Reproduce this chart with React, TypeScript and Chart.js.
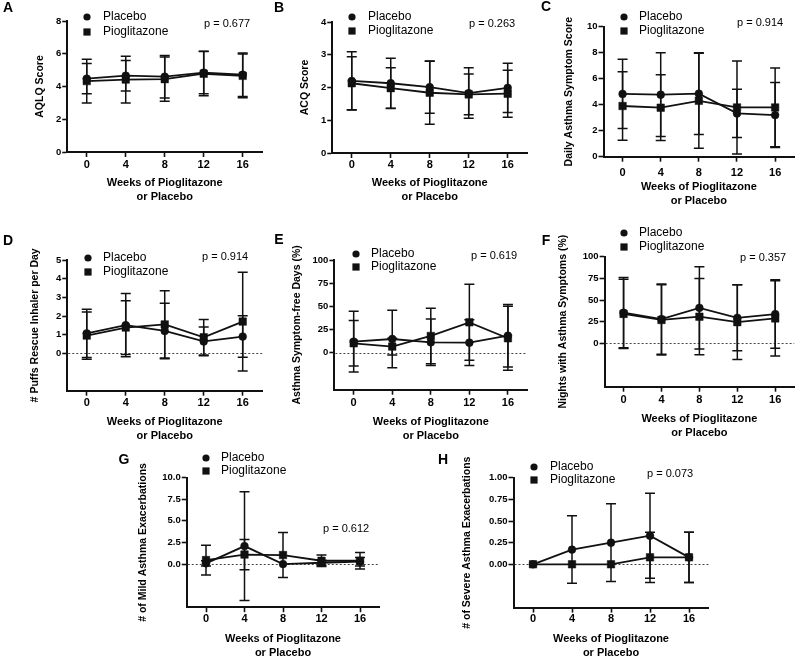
import React, { useEffect, useRef } from 'react';
import { Chart, registerables } from 'chart.js';

Chart.register(...registerables);

const FONT = '"Liberation Sans", Arial, Helvetica, sans-serif';
Chart.defaults.font.family = FONT;
Chart.defaults.color = '#000';

// ---------- data ----------
const weeks = [0, 4, 8, 12, 16];
const seriesNames = ['Placebo', 'Pioglitazone'];
const xTitle = ['Weeks of Pioglitazone', 'or Placebo'];

// A: AQLQ score
const aqlqPlacebo = [4.48, 4.66, 4.6, 4.85, 4.72];
const aqlqPlaceboSD = [0.92, 0.93, 1.3, 1.3, 1.33];
const aqlqPio = [4.33, 4.42, 4.45, 4.78, 4.65];
const aqlqPioSD = [1.33, 1.43, 1.35, 1.35, 1.33];

// B: ACQ score
const acqPlacebo = [2.2, 2.13, 2.01, 1.83, 1.99];
const acqPlaceboSD = [0.89, 0.76, 0.8, 0.77, 0.75];
const acqPio = [2.13, 1.98, 1.84, 1.79, 1.81];
const acqPioSD = [0.81, 0.62, 0.96, 0.62, 0.72];

// C: daily asthma symptom score
const dassPlacebo = [4.83, 4.77, 4.85, 3.33, 3.2];
const dassPlaceboSD = [2.66, 3.22, 3.15, 1.86, 2.5];
const dassPio = [3.9, 3.77, 4.3, 3.79, 3.79];
const dassPioSD = [2.63, 2.53, 3.65, 3.58, 3.03];

// D: puffs rescue inhaler per day
const puffsPlacebo = [1.07, 1.51, 1.2, 0.64, 0.9];
const puffsPlaceboSD = [1.29, 1.69, 1.49, 0.77, 1.11];
const puffsPio = [0.95, 1.38, 1.55, 0.86, 1.7];
const puffsPioSD = [1.27, 1.44, 1.8, 0.95, 2.65];

// E: symptom-free days (%)
const sfdPlacebo = [11.9, 14.7, 11.1, 10.8, 18.3];
const sfdPlaceboSD = [32.7, 31, 25.1, 24.8, 33.7];
const sfdPio = [10.1, 6.5, 18, 32.7, 15.5];
const sfdPioSD = [24.5, 9, 30, 41, 34.5];

// F: nights with asthma symptoms (%)
const nightsPlacebo = [35.4, 28, 41, 29.5, 33.8];
const nightsPlaceboSD = [40.5, 40.5, 47.5, 38, 39.5];
const nightsPio = [34, 27, 30.8, 24.5, 28.8];
const nightsPioSD = [40, 40.5, 44, 43, 43.5];

// G: mild exacerbations
const mildPlacebo = [0.08, 2.08, 0, 0.15, 0.27];
const mildPlaceboSD = [0.3, 6.3, 0, 0.3, 0.5];
const mildPio = [0.46, 1.1, 1.04, 0.38, 0.38];
const mildPioSD = [1.73, 1.75, 2.6, 0.66, 0.95];

// H: severe exacerbations
const severePlacebo = [0, 0.17, 0.25, 0.33, 0.08];
const severePlaceboSD = [0, 0.39, 0.45, 0.49, 0.29];
const severePio = [0, 0, 0, 0.08, 0.08];
const severePioSD = [0, 0, 0, 0.29, 0.29];

const pValues = ['p = 0.677', 'p = 0.263', 'p = 0.914', 'p = 0.914', 'p = 0.619', 'p = 0.357', 'p = 0.612', 'p = 0.073'];
const yTitles = [
  'AQLQ Score',
  'ACQ Score',
  'Daily Asthma Symptom Score',
  '# Puffs Rescue Inhaler per Day',
  'Asthma Symptom-free Days (%)',
  'Nights with Asthma Symptoms (%)',
  '# of Mild Asthma Exacerbations',
  '# of Severe Asthma Exacerbations',
];
const letters = ['A', 'B', 'C', 'D', 'E', 'F', 'G', 'H'];

// ---------- layout (page pixels) ----------
type Panel = {
  idx: number;
  placebo: number[]; placeboSD: number[]; pio: number[]; pioSD: number[];
  yMin: number; yMax: number; yStep: number; decimals: number; zeroLine: boolean;
  canvas: number[]; area: number[];
  letterPos: number[]; legend: number[]; pPos: number[];
  yTitleX: number; xTitleY: number; xTickPad: number;
};

const panels: Panel[] = [
  { idx: 0, placebo: aqlqPlacebo, placeboSD: aqlqPlaceboSD, pio: aqlqPio, pioSD: aqlqPioSD,
    yMin: 0, yMax: 8, yStep: 2, decimals: 0, zeroLine: false,
    canvas: [0, 0, 268, 212], area: [67.25, 21, 264.75, 152],
    letterPos: [8, 8], legend: [87, 17, 32, 103], pPos: [204, 24], yTitleX: 40, xTitleY: 183, xTickPad: 1.5 },
  { idx: 1, placebo: acqPlacebo, placeboSD: acqPlaceboSD, pio: acqPio, pioSD: acqPioSD,
    yMin: 0, yMax: 4, yStep: 1, decimals: 0, zeroLine: false,
    canvas: [265, 0, 268, 212], area: [332.25, 22, 529.75, 153],
    letterPos: [279, 8], legend: [352, 17, 31, 368], pPos: [469, 24], yTitleX: 305, xTitleY: 183, xTickPad: 0.5 },
  { idx: 2, placebo: dassPlacebo, placeboSD: dassPlaceboSD, pio: dassPio, pioSD: dassPioSD,
    yMin: 0, yMax: 10, yStep: 2, decimals: 0, zeroLine: false,
    canvas: [530, 0, 270, 212], area: [603.5, 26.7, 798.5, 156.7],
    letterPos: [546, 7], legend: [624, 17, 31, 639], pPos: [737, 23], yTitleX: 569, xTitleY: 187, xTickPad: 4.5 },
  { idx: 3, placebo: puffsPlacebo, placeboSD: puffsPlaceboSD, pio: puffsPio, pioSD: puffsPioSD,
    yMin: -2, yMax: 5, yStep: 1, decimals: 0, zeroLine: true,
    canvas: [0, 212, 268, 232], area: [67.25, 260, 264.75, 390.7],
    letterPos: [8, 241], legend: [88, 258, 272, 103], pPos: [202, 257], yTitleX: 35, xTitleY: 422, xTickPad: 0.7 },
  { idx: 4, placebo: sfdPlacebo, placeboSD: sfdPlaceboSD, pio: sfdPio, pioSD: sfdPioSD,
    yMin: -40, yMax: 100, yStep: 25, decimals: 0, zeroLine: true,
    canvas: [265, 212, 268, 232], area: [334.4, 260, 530.6, 389.7],
    letterPos: [279, 240], legend: [356, 254, 267, 371], pPos: [471, 256], yTitleX: 297, xTitleY: 422, xTickPad: 1.7 },
  { idx: 5, placebo: nightsPlacebo, placeboSD: nightsPlaceboSD, pio: nightsPio, pioSD: nightsPioSD,
    yMin: -50, yMax: 100, yStep: 25, decimals: 0, zeroLine: true,
    canvas: [530, 212, 270, 232], area: [604.6, 256.7, 798.4, 386.7],
    letterPos: [546, 241], legend: [624, 233, 247, 639], pPos: [740, 258], yTitleX: 563, xTitleY: 419, xTickPad: 1.7 },
  { idx: 6, placebo: mildPlacebo, placeboSD: mildPlaceboSD, pio: mildPio, pioSD: mildPioSD,
    yMin: -5, yMax: 10, yStep: 2.5, decimals: 1, zeroLine: true,
    canvas: [100, 444, 300, 220], area: [186.75, 477.7, 379.25, 607.2],
    letterPos: [124, 460], legend: [206, 458, 471, 221], pPos: [323, 529], yTitleX: 143, xTitleY: 639, xTickPad: 0.2 },
  { idx: 7, placebo: severePlacebo, placeboSD: severePlaceboSD, pio: severePio, pioSD: severePioSD,
    yMin: -0.5, yMax: 1, yStep: 0.25, decimals: 2, zeroLine: true,
    canvas: [420, 444, 300, 220], area: [513.5, 477.7, 708.5, 607.6],
    letterPos: [443, 460], legend: [534, 467, 480, 550], pPos: [647, 474], yTitleX: 467, xTitleY: 639, xTickPad: 0 },
];

const INK = '#111';
const CAP = 5;
const X_TITLE_LH = 14;
const Y_TITLE_LH = 13;

function makeDecor(p: Panel) {
  const [cx, cy] = p.canvas;
  return {
    id: 'decor' + p.idx,
    beforeDatasetsDraw(chart: any) {
      const { ctx, chartArea, scales } = chart;
      const ys = scales.y;
      ctx.save();
      if (p.zeroLine) {
        const y0 = Math.round(ys.getPixelForValue(0)) + 0.5;
        ctx.strokeStyle = '#444';
        ctx.lineWidth = 1;
        ctx.setLineDash([2, 2]);
        ctx.beginPath();
        ctx.moveTo(chartArea.left + 1, y0);
        ctx.lineTo(chartArea.right, y0);
        ctx.stroke();
        ctx.setLineDash([]);
      }
      ctx.strokeStyle = INK;
      ctx.lineWidth = 1.5;
      chart.data.datasets.forEach((ds: any, di: number) => {
        const meta = chart.getDatasetMeta(di);
        const sd: number[] = ds.sd;
        meta.data.forEach((pt: any, i: number) => {
          const v = ds.data[i].y;
          const s = sd[i];
          if (!s) return;
          const yt = ys.getPixelForValue(v + s);
          const yb = ys.getPixelForValue(v - s);
          const x = pt.x;
          ctx.beginPath();
          ctx.moveTo(x, yt); ctx.lineTo(x, yb);
          ctx.moveTo(x - CAP, yt); ctx.lineTo(x + CAP, yt);
          ctx.moveTo(x - CAP, yb); ctx.lineTo(x + CAP, yb);
          ctx.stroke();
        });
      });
      ctx.restore();
    },
    afterDraw(chart: any) {
      const { ctx } = chart;
      ctx.save();
      ctx.fillStyle = '#000';
      // panel letter
      ctx.font = `bold 14px ${FONT}`;
      ctx.textAlign = 'center';
      ctx.textBaseline = 'middle';
      ctx.fillText(letters[p.idx], p.letterPos[0] - cx, p.letterPos[1] - cy);
      // legend
      const [mx, y1, y2, tx] = p.legend;
      ctx.fillStyle = INK;
      ctx.beginPath();
      ctx.arc(mx - cx, y1 - cy, 3.6, 0, Math.PI * 2);
      ctx.fill();
      ctx.fillRect(mx - cx - 3.6, y2 - cy - 3.6, 7.2, 7.2);
      ctx.fillStyle = '#000';
      ctx.font = `12px ${FONT}`;
      ctx.textAlign = 'left';
      ctx.fillText(seriesNames[0], tx - cx, y1 - cy);
      ctx.fillText(seriesNames[1], tx - cx, y2 - cy);
      // p value
      ctx.font = `11px ${FONT}`;
      ctx.fillText(pValues[p.idx], p.pPos[0] - cx, p.pPos[1] - cy);
      ctx.restore();
    },
  };
}

function buildConfig(p: Panel): any {
  const [cx, cy, cw, ch] = p.canvas;
  const [al, at, ar, ab] = p.area;
  const yWidth = al - cx;
  const xHeight = ch - (ab - cy);
  const xTitlePadBottom = ch - (p.xTitleY - cy) - 1.5 * X_TITLE_LH;
  const yTitlePadTop = p.yTitleX - cx - Y_TITLE_LH / 2;
  const gridCommon = {
    display: true,
    drawOnChartArea: false,
    drawTicks: true,
    tickLength: 5,
    tickColor: INK,
    tickWidth: 1.6,
    color: INK,
  };
  const borderCommon = { display: true, color: INK, width: 2 };
  return {
    type: 'line',
    data: {
      datasets: [
        {
          label: seriesNames[0],
          data: weeks.map((w, i) => ({ x: w, y: p.placebo[i] })),
          sd: p.placeboSD,
          borderColor: INK,
          backgroundColor: INK,
          borderWidth: 1.8,
          pointStyle: 'circle',
          pointRadius: 3.9,
          pointBorderWidth: 0.5,
          pointBackgroundColor: INK,
          pointBorderColor: INK,
          tension: 0,
          fill: false,
        },
        {
          label: seriesNames[1],
          data: weeks.map((w, i) => ({ x: w, y: p.pio[i] })),
          sd: p.pioSD,
          borderColor: INK,
          backgroundColor: INK,
          borderWidth: 1.8,
          pointStyle: 'rect',
          pointRadius: 5.3,
          pointBorderWidth: 0.5,
          pointBackgroundColor: INK,
          pointBorderColor: INK,
          tension: 0,
          fill: false,
        },
      ],
    },
    options: {
      animation: false,
      responsive: false,
      maintainAspectRatio: false,
      devicePixelRatio: 1,
      events: [],
      layout: { padding: { left: 0, top: at - cy, right: cx + cw - ar, bottom: 0 } },
      plugins: { legend: { display: false }, tooltip: { enabled: false }, title: { display: false } },
      scales: {
        x: {
          type: 'linear',
          min: -2,
          max: 18,
          afterBuildTicks: (s: any) => { s.ticks = weeks.map((v) => ({ value: v })); },
          afterFit: (s: any) => { s.height = xHeight; },
          grid: gridCommon,
          border: borderCommon,
          ticks: {
            autoSkip: false,
            maxRotation: 0,
            padding: p.xTickPad,
            color: '#000',
            font: { size: 11, weight: 'bold' },
            callback: (v: any) => String(v),
          },
          title: {
            display: true,
            text: xTitle,
            color: '#000',
            font: { size: 11, weight: 'bold', lineHeight: X_TITLE_LH + 'px' },
            padding: { top: 0, bottom: xTitlePadBottom },
          },
        },
        y: {
          type: 'linear',
          min: p.yMin,
          max: p.yMax,
          afterBuildTicks: (s: any) => { s.ticks = s.ticks.filter((t: any) => t.value >= -1e-9); },
          afterFit: (s: any) => { s.width = yWidth; },
          grid: gridCommon,
          border: borderCommon,
          ticks: {
            stepSize: p.yStep,
            autoSkip: false,
            padding: 1,
            color: '#000',
            font: { size: 9.5, weight: 'bold' },
            callback: (v: any) => Number(v).toFixed(p.decimals),
          },
          title: {
            display: true,
            text: yTitles[p.idx],
            color: '#000',
            font: { size: 10.5, weight: 'bold', lineHeight: Y_TITLE_LH + 'px' },
            padding: { top: yTitlePadTop, bottom: 0 },
          },
        },
      },
    },
    plugins: [makeDecor(p)],
  };
}

function PanelChart({ p }: { p: Panel }) {
  const ref = useRef<HTMLCanvasElement | null>(null);
  useEffect(() => {
    if (!ref.current) return;
    const chart = new Chart(ref.current, buildConfig(p));
    return () => chart.destroy();
  }, [p]);
  const [cx, cy, cw, ch] = p.canvas;
  return (
    <canvas
      ref={ref}
      width={cw}
      height={ch}
      style={{ position: 'absolute', left: cx, top: cy, width: cw, height: ch }}
    />
  );
}

export default function App() {
  return (
    <div
      style={{
        position: 'absolute',
        left: 0,
        top: 0,
        width: 800,
        height: 657,
        background: '#fff',
        overflow: 'hidden',
      }}
    >
      {panels.map((p) => (
        <PanelChart key={p.idx} p={p} />
      ))}
    </div>
  );
}
